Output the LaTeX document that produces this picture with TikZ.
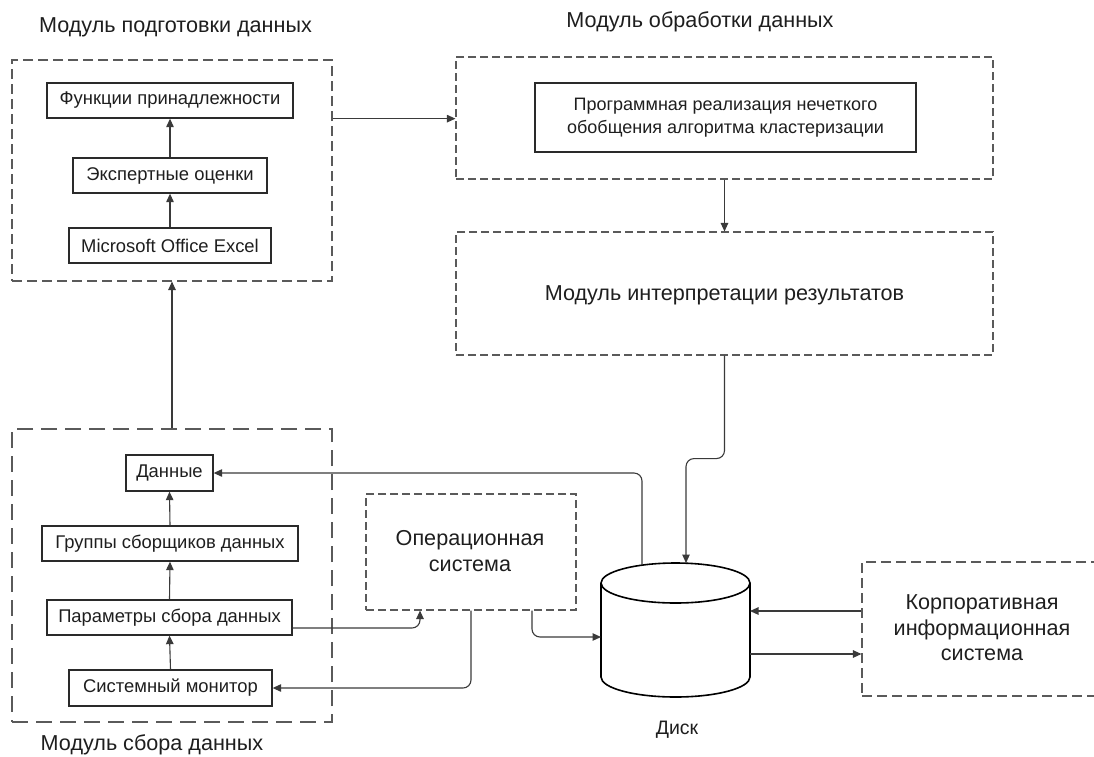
\documentclass[tikz,border=0pt]{standalone}
\usepackage{fontspec}
\setmainfont{Liberation Sans}
\usetikzlibrary{arrows.meta}
\definecolor{dashc}{HTML}{5A5A5A}
\definecolor{linec}{HTML}{3A3A3A}
\definecolor{boxc}{HTML}{2A2A2A}
\definecolor{txtc}{HTML}{1E1E1E}
\begin{document}
\begin{tikzpicture}[x=1pt,y=-1pt,
  modbox/.style={draw=dashc, line width=1.1pt, dash pattern=on 8pt off 4pt, inner sep=0pt},
  blk/.style={draw=boxc, line width=1.3pt, inner sep=0pt, font=\fontsize{18.4}{23}\selectfont, text=txtc},
  big/.style={font=\fontsize{21.6}{26}\selectfont, text=txtc, align=center, inner sep=0pt},
  conn/.style={draw=linec, line width=1.1pt, -{Triangle[length=8.5pt,width=7.5pt]}, rounded corners=8pt},
  diskst/.style={draw=black, line width=1.6pt}
]
\useasboundingbox (0,0) rectangle (1094,756);
\clip (0,0) rectangle (1094,756);

% data preparation module
\node[modbox, minimum width=320pt, minimum height=221pt, dash pattern=on 10pt off 5pt] (prep) at (172,170.5) {};
\node[big] (tprep) at (175.5,27) {Модуль подготовки данных};
\node[blk, minimum width=246pt, minimum height=35pt] (func) at (170,100.5) {Функции принадлежности};
\node[blk, minimum width=194pt, minimum height=35pt] (expert) at (170,175.5) {Экспертные оценки};
\node[blk, minimum width=202pt, minimum height=35pt] (excel) at (170,245.5) {Microsoft Office Excel};

% processing module
\node[modbox, minimum width=537pt, minimum height=122pt] (proc) at (724.5,118) {};
\node[big] (tproc) at (700,22) {Модуль обработки данных};
\node[blk, minimum width=381pt, minimum height=69pt, align=center, font=\fontsize{18}{23}\selectfont] (prog) at (725.5,117.5) {Программная реализация нечеткого\\обобщения алгоритма кластеризации};

% interpretation module
\node[modbox, minimum width=537pt, minimum height=123pt] (interp) at (724.5,293.5) {};
\node[big] (tinterp) at (724.5,295) {Модуль интерпретации результатов};

% collection module
\node[modbox, minimum width=320pt, minimum height=293pt, dash pattern=on 16pt off 8pt] (coll) at (172,575.5) {};
\node[big] (tcoll) at (152,745) {Модуль сбора данных};
\node[blk, minimum width=87pt, minimum height=36pt] (data) at (169.5,473) {Данные};
\node[blk, minimum width=256pt, minimum height=35pt] (groups) at (170,543.5) {Группы сборщиков данных};
\node[blk, minimum width=245pt, minimum height=35pt] (params) at (169.5,617.5) {Параметры сбора данных};
\node[blk, minimum width=203pt, minimum height=36pt] (monitor) at (170.5,688) {Системный монитор};

% operating system
\node[modbox, minimum width=210pt, minimum height=116pt] (os) at (471,552) {};
\node[big] (tos) at (470,551) {Операционная\\система};

% corporate system (its right side runs off the picture)
\node[modbox, minimum width=270pt, minimum height=134pt, dash pattern=on 10pt off 5pt] (corp) at (997,629) {};
\node[big, font=\fontsize{21.6}{25.5}\selectfont] (tcorp) at (982,628) {Корпоративная\\информационная\\система};

% disk
\node[minimum width=149pt, minimum height=134pt, inner sep=0pt, outer sep=0pt] (disk) at (675.5,630) {};
\draw[diskst, fill=white] (601,583) -- (601,677) arc[start angle=180, end angle=0, x radius=74.5, y radius=20] -- (750,583);
\draw[diskst] (675.5,583) ellipse[x radius=74.5, y radius=20];
\node[font=\fontsize{19.5}{23}\selectfont, text=txtc, inner sep=0pt] (tdisk) at (677,730) {Диск};

% connectors
\draw[conn] (excel.north) -- (expert.south);
\draw[conn] (expert.north) -- (func.south);
\draw[conn] (monitor.north) -- (params.south);
\draw[conn] (params.north) -- (groups.south);
\draw[conn] (groups.north) -- (data.south);
\draw[conn] (coll.north) -- (prep.south);
\draw[conn] (prep.east |- func.south) -- (proc.west |- func.south);
\draw[conn] (proc.south) -- (interp.north);
\draw[conn] (interp.south) -- ++(0,103) -| ([xshift=10.5pt]disk.north);
\draw[conn] ([xshift=-33.5pt,yshift=-2pt]disk.north) |- (data.east);
\draw[conn] ([yshift=-10.5pt]params.east) -| ([xshift=-51pt]os.south);
\draw[conn] (os.south) |- (monitor.east);
\draw[conn] ([xshift=61pt]os.south) |- ([yshift=-7pt]disk.west);
\draw[conn] ([yshift=18pt]corp.west) -- ([yshift=19pt]disk.east);
\draw[conn] ([yshift=-24pt]disk.east) -- ([yshift=-25pt]corp.west);
\end{tikzpicture}
\end{document}
